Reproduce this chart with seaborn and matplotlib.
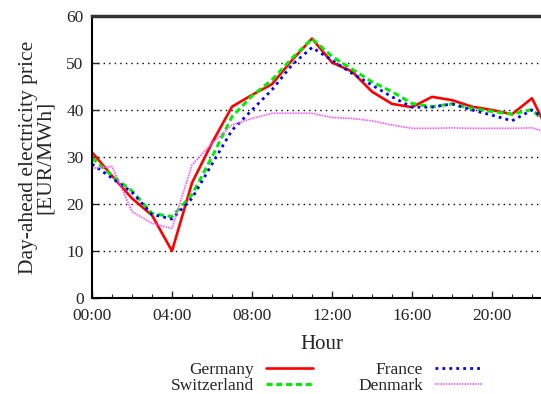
import numpy as np
import pandas as pd
import matplotlib
matplotlib.use("Agg")
import matplotlib.pyplot as plt
import seaborn as sns
from matplotlib.ticker import MultipleLocator, FuncFormatter

# Hourly day-ahead prices (EUR/MWh)
hours = list(range(24))
germany = [31.0, 26.0, 21.2, 17.6, 10.0, 24.5, 33.0, 40.7, 43.2, 45.5, 50.6, 55.2,
           50.1, 48.2, 43.9, 41.3, 40.6, 42.8, 42.1, 40.7, 40.0, 39.1, 42.5, 33.8]
switzerland = [29.8, 26.0, 22.8, 18.0, 17.3, 22.0, 30.0, 38.6, 43.0, 46.4, 51.0, 55.2,
               51.4, 48.7, 46.0, 43.9, 41.4, 40.7, 41.3, 40.3, 39.7, 39.1, 40.1, 35.9]
france = [28.5, 25.5, 22.5, 17.8, 16.8, 21.2, 28.5, 35.7, 40.0, 44.3, 49.6, 53.3,
          50.6, 47.8, 45.3, 42.8, 40.6, 40.6, 41.3, 40.0, 38.9, 37.7, 40.0, 37.1]
denmark = [27.6, 28.0, 18.4, 15.9, 14.8, 28.3, 32.9, 36.8, 38.2, 39.3, 39.3, 39.3,
           38.4, 38.2, 37.7, 36.8, 36.1, 36.1, 36.2, 36.1, 36.1, 36.1, 36.2, 34.9]
countries = ["Germany", "Switzerland", "France", "Denmark"]

df = pd.concat([
    pd.DataFrame({"Hour": hours, "Price": vals, "Country": name})
    for name, vals in zip(countries, [germany, switzerland, france, denmark])
], ignore_index=True)

sns.set_style("ticks")
plt.rcParams["font.family"] = ["Liberation Serif", "DejaVu Serif"]

palette = {"Germany": "#ff0000", "Switzerland": "#00ee00",
           "France": "#0000ff", "Denmark": "#ff55ff"}
dashes = {"Germany": "", "Switzerland": (2, 1.2),
          "France": (1, 1.5), "Denmark": (1, 0.6)}
sizes = {"Germany": 1.9, "Switzerland": 2.2, "France": 2.0, "Denmark": 1.2}

fig = plt.figure(figsize=(5.41, 3.94), dpi=100)
ax = fig.add_axes([92 / 541, 96 / 394, 460 / 541, 282 / 394])

sns.lineplot(data=df, x="Hour", y="Price", hue="Country", style="Country",
             size="Country", palette=palette, dashes=dashes, sizes=sizes,
             hue_order=countries, ax=ax)

ax.set_xlim(0, 23)
ax.set_ylim(0, 60)
ax.xaxis.set_major_locator(MultipleLocator(4))
ax.xaxis.set_minor_locator(MultipleLocator(1))
ax.xaxis.set_major_formatter(FuncFormatter(lambda v, p: f"{int(v):02d}:00"))
ax.yaxis.set_major_locator(MultipleLocator(10))
ax.tick_params(which="major", direction="in", length=5, width=1, labelsize=12.5)
ax.tick_params(axis="x", which="major", pad=7)
ax.tick_params(axis="y", which="major", pad=6)
ax.tick_params(which="minor", direction="in", length=3, width=0.8)
ax.tick_params(axis="x", which="both", top=False)
ax.tick_params(axis="y", right=False)

ax.grid(axis="y", color="black", linestyle=(0, (1, 3)), linewidth=1)
ax.grid(axis="x", visible=False)
for s in ["left", "bottom"]:
    ax.spines[s].set_linewidth(1.5)
    ax.spines[s].set_color("black")
ax.spines["top"].set_linewidth(2.5)
ax.spines["top"].set_color("#333333")
ax.spines["right"].set_visible(False)

ax.set_xlabel("Hour", fontsize=15, labelpad=8)
ax.set_ylabel("Day-ahead electricity price\n[EUR/MWh]", fontsize=15.5,
              linespacing=0.9, labelpad=8)

handles, labels = ax.get_legend_handles_labels()
ax.get_legend().remove()
lut = dict(zip(labels, handles))
fig.legend([lut[c] for c in countries], countries, ncol=2, markerfirst=False,
           frameon=False, fontsize=12.5, loc="upper center",
           bbox_to_anchor=(0.603, 0.1), handlelength=2.7, handletextpad=0.7,
           labelspacing=0.0, columnspacing=2.6, borderaxespad=0)

fig.savefig("out.png", dpi=100)
